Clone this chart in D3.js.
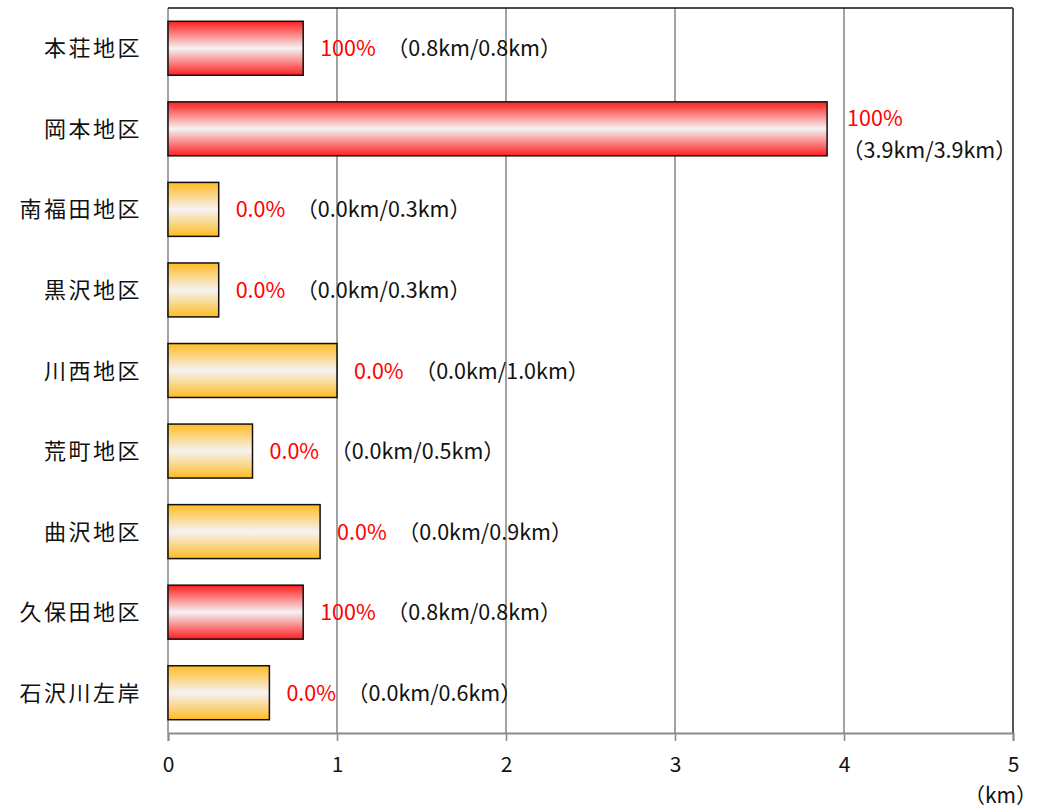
<!DOCTYPE html>
<html>
<head>
<meta charset="utf-8">
<script src="https://cdn.jsdelivr.net/npm/d3@7"></script>
<style>
  body { margin: 0; background: #fff; }
  text { font-family: "Noto Sans CJK JP", "Noto Sans", sans-serif; }
</style>
</head>
<body>
<script>
//chart data
var districts = ["本荘地区", "岡本地区", "南福田地区", "黒沢地区", "川西地区", "荒町地区", "曲沢地区", "久保田地区", "石沢川左岸"];
var totalKm = [0.8, 3.9, 0.3, 0.3, 1.0, 0.5, 0.9, 0.8, 0.6];
var doneKm = [0.8, 3.9, 0.0, 0.0, 0.0, 0.0, 0.0, 0.8, 0.0];
var rateLabels = ["100%", "100%", "0.0%", "0.0%", "0.0%", "0.0%", "0.0%", "100%", "0.0%"];
var xTicks = [0, 1, 2, 3, 4, 5];

var rows = districts.map(function(d, i){
    return { name: d, total: totalKm[i], done: doneKm[i], rate: rateLabels[i] };
});

var w = 1038, h = 808;
var plotL = 168, plotR = 1013, plotT = 8, plotB = 733;

var svg = d3.select("body").append("svg")
    .attr("width", w)
    .attr("height", h);

//gradients: colour at top and bottom, white in the middle
var defs = svg.append("defs");
function gradient(id, c){
    var g = defs.append("linearGradient")
        .attr("id", id)
        .attr("x1", 0).attr("y1", 0).attr("x2", 0).attr("y2", 1);
    g.append("stop").attr("offset", "0%").attr("stop-color", c);
    g.append("stop").attr("offset", "50%").attr("stop-color", "#f5f3f3");
    g.append("stop").attr("offset", "100%").attr("stop-color", c);
}
gradient("gRed", "#ff1e1e");
gradient("gOrange", "#ffbb22");

var x = d3.scaleLinear().domain([0, 5]).range([plotL, plotR]);
var y = d3.scaleBand().domain(districts).range([plotT, plotB])
    .paddingInner(0.33).paddingOuter(0.165);

//vertical gridlines
svg.selectAll(".grid")
    .data(xTicks)
    .enter().append("line")
    .attr("x1", function(d){ return x(d); })
    .attr("x2", function(d){ return x(d); })
    .attr("y1", plotT)
    .attr("y2", plotB)
    .style("stroke", "#8c8c8c")
    .style("stroke-width", 1.6);

//plot border top and right
svg.append("line").attr("x1", plotL).attr("x2", plotR).attr("y1", plotT).attr("y2", plotT)
    .style("stroke", "#111").style("stroke-width", 1.5);
svg.append("line").attr("x1", plotR).attr("x2", plotR).attr("y1", plotT).attr("y2", plotB)
    .style("stroke", "#444").style("stroke-width", 1.6);

//x axis
var xAxis = d3.axisBottom(x).tickValues(xTicks).tickSize(8).tickPadding(16).tickFormat(d3.format("d"));
var ax = svg.append("g")
    .attr("transform", "translate(0," + plotB + ")")
    .call(xAxis);
ax.select(".domain").style("stroke", "#8c8c8c").style("stroke-width", 2);
ax.selectAll(".tick line").style("stroke", "#8c8c8c").style("stroke-width", 1.6);
ax.selectAll(".tick text")
    .style("font-size", "21px")
    .style("fill", "#111");

svg.append("text")
    .attr("x", 1037)
    .attr("y", 803)
    .attr("text-anchor", "end")
    .style("font-size", "21px")
    .style("fill", "#111")
    .text("（km）");

//category labels
svg.selectAll(".cat")
    .data(rows)
    .enter().append("text")
    .attr("class", "cat")
    .attr("x", 142)
    .attr("y", function(d){ return y(d.name) + y.bandwidth() / 2 + 8; })
    .attr("text-anchor", "end")
    .style("font-size", "22px")
    .style("letter-spacing", "2.5px")
    .style("fill", "#111")
    .text(function(d){ return d.name; });

//bars
svg.selectAll(".bar")
    .data(rows)
    .enter().append("rect")
    .attr("class", "bar")
    .attr("x", x(0))
    .attr("y", function(d){ return y(d.name); })
    .attr("width", function(d){ return x(d.total) - x(0); })
    .attr("height", y.bandwidth())
    .style("fill", function(d){ return d.done >= d.total ? "url(#gRed)" : "url(#gOrange)"; })
    .style("stroke", "#111")
    .style("stroke-width", 1.5);

//value labels
var fmt = d3.format(".1f");
var labels = svg.selectAll(".val")
    .data(rows)
    .enter().append("text")
    .attr("class", "val")
    .style("font-size", "21.5px");

labels.each(function(d){
    var t = d3.select(this);
    var lx = x(d.total) + 17;
    var cy = y(d.name) + y.bandwidth() / 2;
    var detail = "（" + fmt(d.done) + "km/" + fmt(d.total) + "km）";
    var wrap = lx + 250 > plotR;
    t.attr("x", wrap ? lx + 3 : lx).attr("y", wrap ? cy - 3 : cy + 8);
    t.append("tspan").style("fill", "#ff0000").text(d.rate);
    if (wrap) {
        t.append("tspan").attr("x", lx - 2).attr("dy", 32).style("fill", "#111").text(detail);
    } else {
        t.append("tspan").attr("dx", 11).style("fill", "#111").text(detail);
    }
});
</script>
</body>
</html>
